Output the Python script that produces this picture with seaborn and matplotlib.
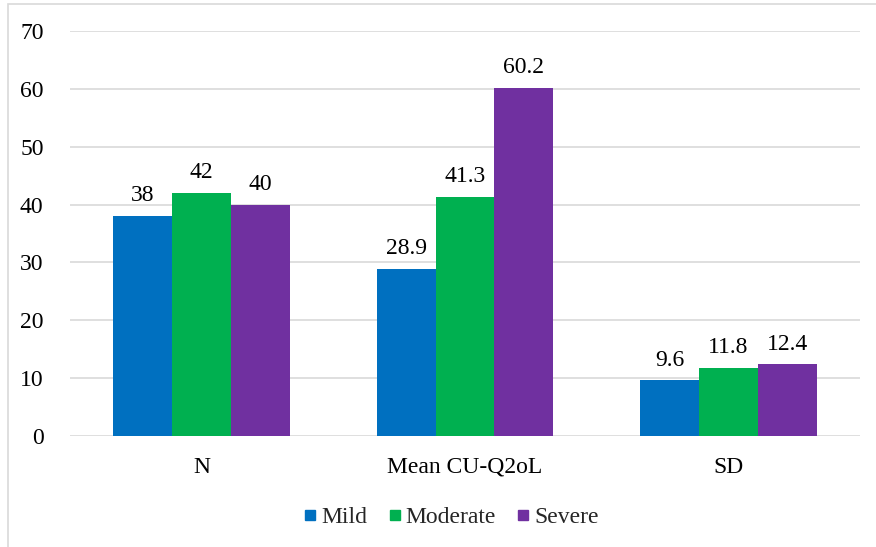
import matplotlib
matplotlib.use("Agg")
import matplotlib.pyplot as plt
from matplotlib.lines import Line2D
from matplotlib.patches import Rectangle
import seaborn as sns
import pandas as pd

# Chart data
categories = ["N", "Mean CU-Q2oL", "SD"]
groups = ["Mild", "Moderate", "Severe"]
mild = [38, 28.9, 9.6]
moderate = [42, 41.3, 11.8]
severe = [40, 60.2, 12.4]
y_ticks = [0, 10, 20, 30, 40, 50, 60, 70]

colors = {"Mild": "#0070C0", "Moderate": "#00B050", "Severe": "#7030A0"}

rows = []
for grp, vals in zip(groups, [mild, moderate, severe]):
    for cat, v in zip(categories, vals):
        rows.append({"Category": cat, "Group": grp, "Value": v})
df = pd.DataFrame(rows)

sns.set_theme(style="white")
plt.rcParams["font.family"] = ["Liberation Serif", "DejaVu Serif"]

fig = plt.figure(figsize=(8.76, 5.47), dpi=100)
ax = fig.add_axes([0.0799, 0.2029, 0.9018, 0.7404])

sns.barplot(data=df, x="Category", y="Value", hue="Group", order=categories,
            hue_order=groups, palette=colors, saturation=1, width=0.67, gap=0,
            edgecolor="none", linewidth=0, ax=ax, legend=False, zorder=3)

ax.set_ylim(0, 70)
ax.set_yticks(y_ticks)
ax.set_xlim(-0.5, 2.5)
ax.grid(axis="y", color="#D9D9D9", linewidth=1.2, zorder=0)
ax.set_axisbelow(True)
for s in ax.spines.values():
    s.set_visible(False)
ax.tick_params(axis="both", length=0, labelsize=17, colors="black")
ax.tick_params(axis="y", pad=19)
ax.tick_params(axis="x", pad=15)
ax.set_xlabel("")
ax.set_ylabel("")

# Value labels above each bar
for container, vals in zip(ax.containers, [mild, moderate, severe]):
    labels = [f"{v:g}" for v in vals]
    ax.bar_label(container, labels=labels, padding=7, fontsize=17, color="black")

# Legend below the plot
handles = [Line2D([0], [0], marker="s", linestyle="none", markersize=7.8,
                  markerfacecolor=colors[g], markeredgecolor=colors[g]) for g in groups]
fig.legend(handles, groups, loc="center", bbox_to_anchor=(452 / 876, 1 - 517 / 547),
           ncol=3, frameon=False, fontsize=17, handletextpad=0.25,
           columnspacing=0.93, handlelength=0.45)

# Chart frame
fig.patches.append(Rectangle((8 / 876, -0.1), 1.2, 1 - 4 / 547 + 0.1,
                             transform=fig.transFigure, fill=False,
                             edgecolor="#D9D9D9", linewidth=1.2))

fig.savefig("out.png", dpi=100, facecolor="white")
